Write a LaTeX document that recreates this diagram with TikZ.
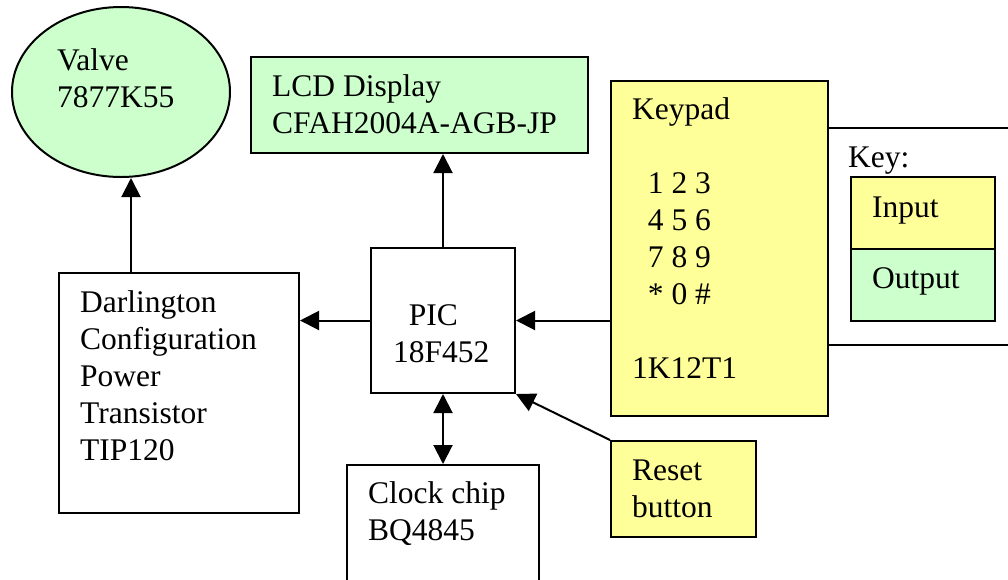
\documentclass[tikz,border=0pt]{standalone}
\usepackage{fontspec}
\setmainfont{Liberation Serif}
\usetikzlibrary{shapes.geometric,arrows.meta}

\definecolor{inyellow}{HTML}{FFFF99}
\definecolor{outgreen}{HTML}{CCFFCC}

\begin{document}
\begin{tikzpicture}[
		x=1pt, y=-1pt,
		box/.style={draw=black, line width=2pt, rectangle, inner sep=0pt},
		txt/.style={anchor=base west, align=left, inner sep=0pt, font=\fontsize{31.5}{37}\selectfont},
		arr/.style={black, line width=2pt, -{Triangle[length=19pt, width=19pt]}},
		dbl/.style={black, line width=2pt, {Triangle[length=19pt, width=19pt]}-{Triangle[length=19pt, width=19pt]}}
		]
		
		% 画布
		\useasboundingbox (0,0) rectangle (1008,579);
		\clip (0,0) rectangle (1008,579);
		
		% 方框
		\node[box, minimum width=202pt, minimum height=217pt] (key) at (929,236.5) {};
		\node[box, fill=inyellow, minimum width=144pt, minimum height=72pt] (input) at (923,213) {};
		\node[box, fill=outgreen, minimum width=144pt, minimum height=72pt] (output) at (923,285) {};
		
		\node[box, ellipse, fill=outgreen, minimum width=218pt, minimum height=170pt] (valve) at (121,92) {};
		\node[box, fill=outgreen, minimum width=337pt, minimum height=96pt] (lcd) at (419.5,105) {};
		\node[box, minimum width=144pt, minimum height=145pt] (pic) at (443,320.5) {};
		\node[box, minimum width=240pt, minimum height=240pt] (dar) at (179,393) {};
		\node[box, minimum width=192pt, minimum height=135pt] (clock) at (443,532.5) {};
		\node[box, fill=inyellow, minimum width=217pt, minimum height=335pt] (keypad) at (719.5,248.5) {};
		\node[box, fill=inyellow, minimum width=145pt, minimum height=96pt] (reset) at (683.5,489) {};
		
		% 箭头
		\draw[arr] ([xshift=-48pt]dar.north) -- ([xshift=-48pt]dar.north |- valve.south);
		\draw[arr] (pic.north) -- (pic.north |- lcd.south);
		\draw[arr] (pic.west) -- (pic.west -| dar.east);
		\draw[arr] (keypad.west |- pic.east) -- (pic.east);
		\draw[dbl] (pic.south) -- (pic.south |- clock.north);
		\draw[arr] (reset.north west) -- (pic.south east);
		
		% 文字（基线取最后一行）
		\node[txt] (valvetxt) at (57,107) {Valve\\7877K55};
		\node[txt] (lcdtxt) at (272,133) {LCD Display\\CFAH2004A-AGB-JP};
		\node[txt] (pictxt) at (393,362) {\ \ PIC\\18F452};
		\node[txt] (dartxt) at (80,460) {Darlington\\Configuration\\Power\\Transistor\\TIP120};
		\node[txt] (clocktxt) at (368,540) {Clock chip\\BQ4845};
		\node[txt] (keypadtxt) at (632,378) {Keypad\\[37pt]\ \ 1 2 3\\\ \ 4 5 6\\\ \ 7 8 9\\\ \ * 0 \#\\[37pt]1K12T1};
		\node[txt] (resettxt) at (632,517) {Reset\\button};
		\node[txt] (keytxt) at (848,167) {Key:};
		\node[txt] (inputtxt) at (872,217) {Input};
		\node[txt] (outputtxt) at (872,288) {Output};
		
	\end{tikzpicture}
\end{document}
